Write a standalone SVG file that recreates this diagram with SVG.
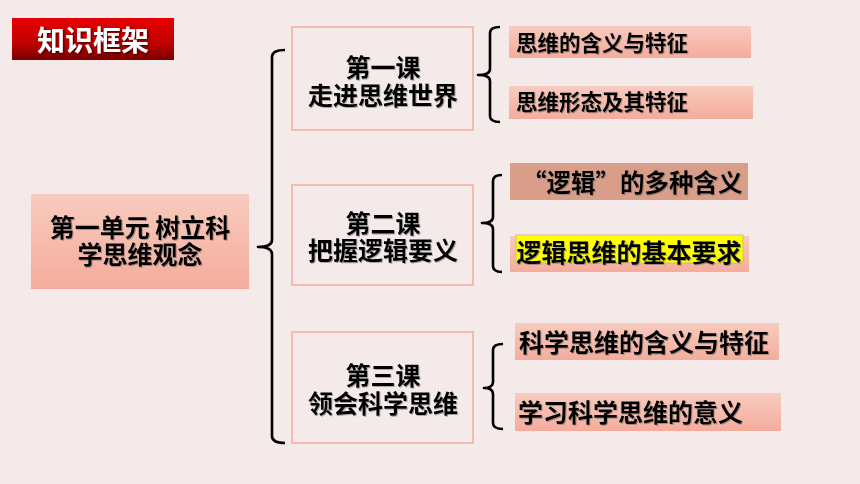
<svg xmlns="http://www.w3.org/2000/svg" width="860" height="484" viewBox="0 0 860 484">
<defs>
<linearGradient id="gTitle" x1="0" y1="0" x2="0" y2="1">
<stop offset="0" stop-color="#e80000"/>
<stop offset="0.6" stop-color="#c00000"/>
<stop offset="1" stop-color="#7a0000"/>
</linearGradient>
<linearGradient id="gLeaf" x1="0" y1="0" x2="0" y2="1">
<stop offset="0" stop-color="#f8cbbe"/>
<stop offset="1" stop-color="#f4ac9c"/>
</linearGradient>
<filter id="sh" x="-5%" y="-20%" width="110%" height="140%">
<feDropShadow dx="1" dy="1" stdDeviation="0.6" flood-color="#555" flood-opacity="0.45"/>
</filter>
<filter id="shT" x="-5%" y="-20%" width="110%" height="140%">
<feDropShadow dx="1.2" dy="1.2" stdDeviation="0.8" flood-color="#000" flood-opacity="0.7"/>
</filter>
</defs>
<style>
text{font-family:"Noto Sans CJK SC","Noto Sans CJK TC",sans-serif;font-weight:bold;fill:#000;}
.t{filter:url(#sh);}
.c{text-anchor:middle;font-size:25px;}
.course{fill:#f4eaea;stroke:#f2ad98;stroke-width:1.5;}
.leaf{fill:url(#gLeaf);}
.br{fill:none;stroke:#000;stroke-width:2.6;stroke-linejoin:round;stroke-linecap:butt;}
</style>
<rect x="0" y="0" width="860" height="484" fill="#f4eaea"/>

<g id="title">
<rect x="12" y="18" width="162" height="42" fill="url(#gTitle)"/>
<text x="93" y="50.5" text-anchor="middle" font-size="28" style="fill:#fff;filter:url(#shT)">知识框架</text>
</g>

<g id="connectors">
<path class="br" d="M285,50 Q272,50 272,57 V240 Q272,247 258,247 Q272,247 272,254 V436 Q272,443 285,443"/>
<path class="br" d="M500,27 Q490,27 490,33 V69 Q490,75 478,75 Q490,75 490,81 V116 Q490,122 500,122"/>
<path class="br" d="M502,175 Q493,175 493,181 V217 Q493,223 482,223 Q493,223 493,229 V266 Q493,272 502,272"/>
<path class="br" d="M503,344 Q493,344 493,350 V382 Q493,388 484,388 Q493,388 493,394 V423 Q493,429 503,429"/>
</g>

<g id="unit">
<rect x="31" y="194" width="218" height="95" class="leaf"/>
<text class="t c" x="140" y="237"><tspan x="140" y="237">第一单元 树立科</tspan><tspan x="140" y="264">学思维观念</tspan></text>
</g>

<g id="course1">
<rect x="292" y="27" width="181" height="103" class="course"/>
<text class="t c" x="383" y="76.5"><tspan x="383" y="76.5">第一课</tspan><tspan x="383" y="104.5">走进思维世界</tspan></text>
</g>
<g id="course2">
<rect x="292" y="185" width="181" height="100" class="course"/>
<text class="t c" x="383" y="232.5"><tspan x="383" y="232.5">第二课</tspan><tspan x="383" y="259.5">把握逻辑要义</tspan></text>
</g>
<g id="course3">
<rect x="292" y="332" width="181" height="111" class="course"/>
<text class="t c" x="383" y="384.5"><tspan x="383" y="384.5">第三课</tspan><tspan x="383" y="412.5">领会科学思维</tspan></text>
</g>

<g id="leaf1">
<rect x="509" y="26" width="242" height="32" class="leaf"/>
<text class="t" x="516" y="51" font-size="21.5">思维的含义与特征</text>
</g>
<g id="leaf2">
<rect x="509" y="86" width="244" height="33" class="leaf"/>
<text class="t" x="516" y="110" font-size="21.5">思维形态及其特征</text>
</g>
<g id="leaf3">
<rect x="510" y="163" width="238" height="37" fill="#d99e89"/>
<text class="t" x="522" y="192" font-size="24.5">“逻辑”的多种含义</text>
</g>
<g id="leaf4">
<rect x="510" y="236" width="239" height="36" class="leaf"/>
<rect x="516" y="235" width="227" height="28" fill="#ffff00" stroke="#c9b48a" stroke-width="0.8"/>
<text class="t" x="516.5" y="261.5" font-size="25">逻辑思维的基本要求</text>
</g>
<g id="leaf5">
<rect x="515" y="323" width="264" height="37" class="leaf"/>
<text class="t" x="519" y="351.5" font-size="25">科学思维的含义与特征</text>
</g>
<g id="leaf6">
<rect x="515" y="393" width="266" height="38" class="leaf"/>
<text class="t" x="518" y="421.5" font-size="25">学习科学思维的意义</text>
</g>
</svg>
